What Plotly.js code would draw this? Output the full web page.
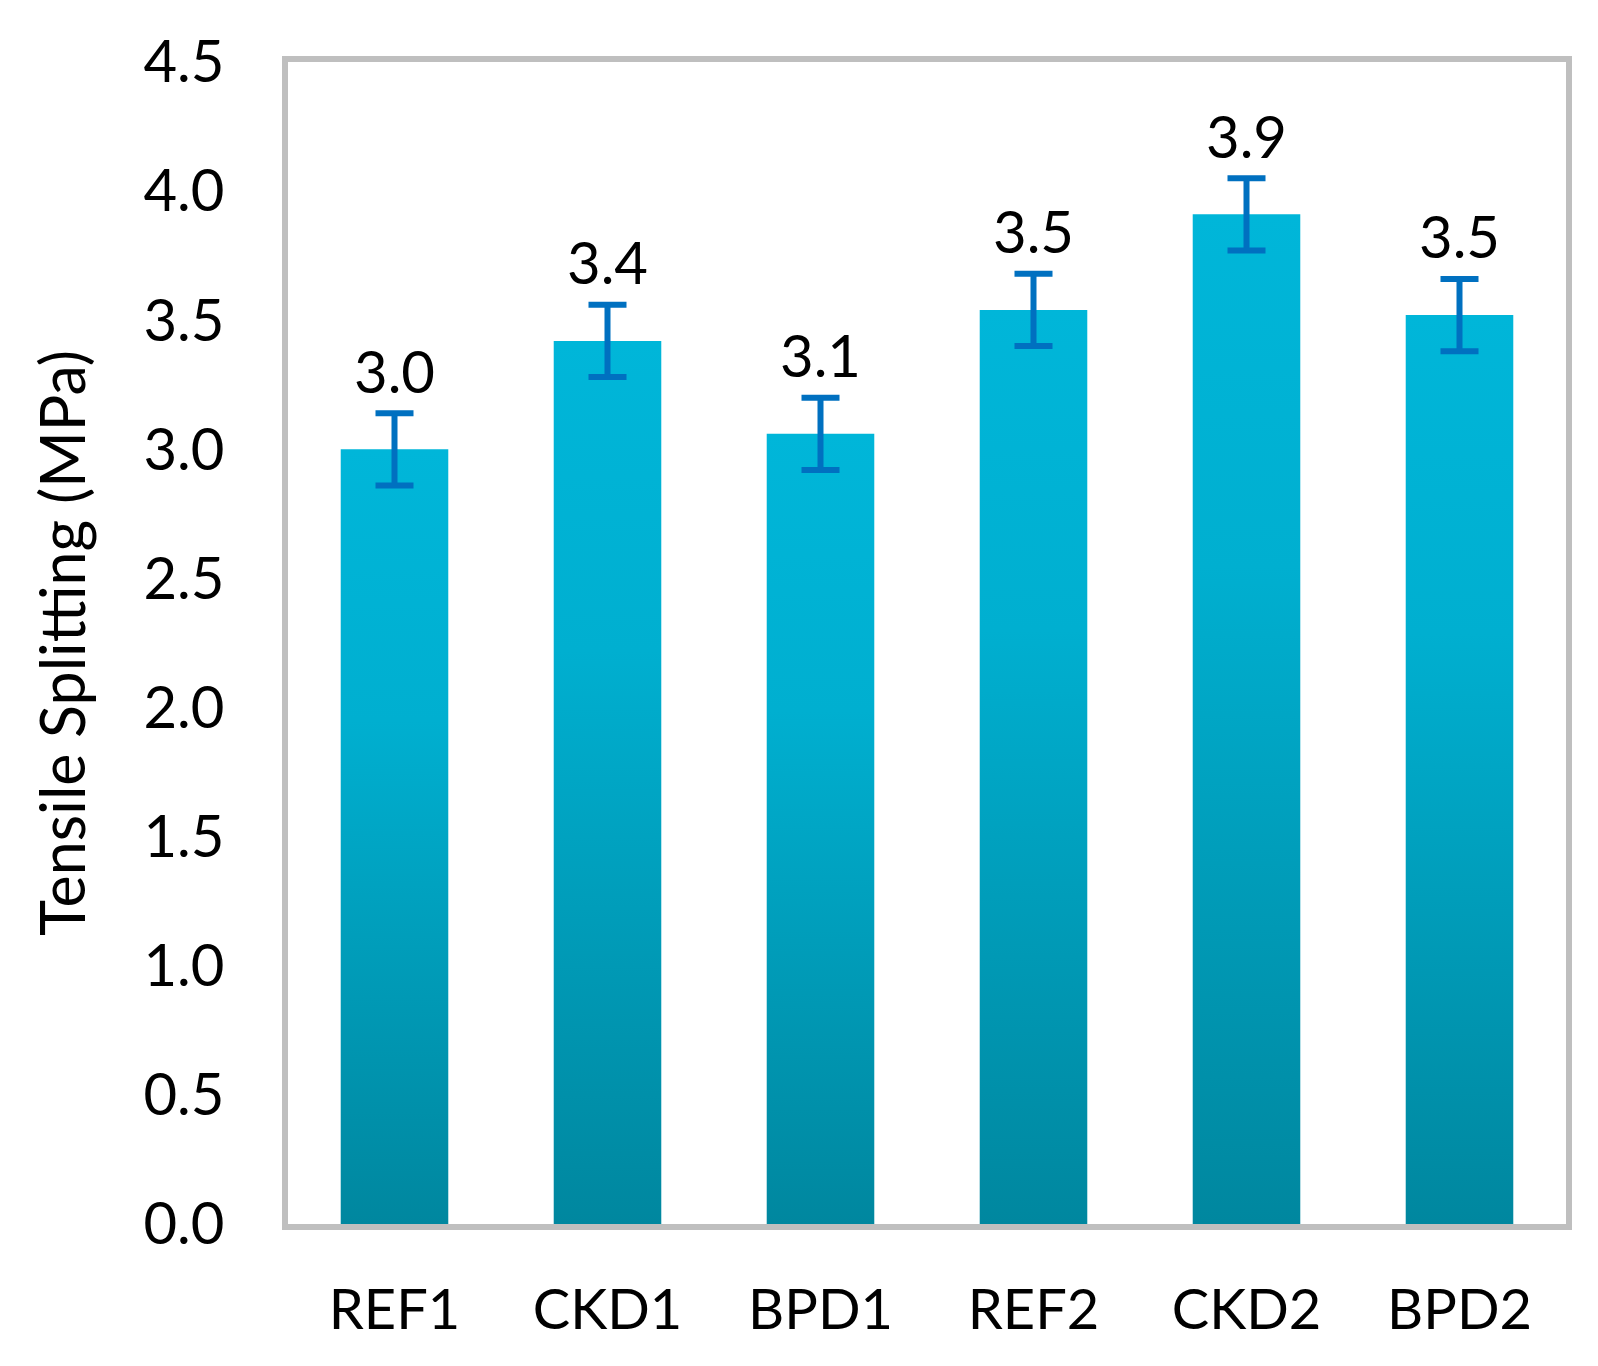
<!DOCTYPE html>
<html>
<head>
<meta charset="utf-8">
<script src="https://cdn.plot.ly/plotly-3.0.1.min.js"></script>
<style>
  html, body { margin: 0; padding: 0; background: #ffffff; }
  #chart { width: 1598px; height: 1366px; }
</style>
</head>
<body>
<div id="chart"></div>
<script>
const categories = ["REF1", "CKD1", "BPD1", "REF2", "CKD2", "BPD2"];
const tensileValues = [3.00, 3.42, 3.06, 3.54, 3.91, 3.52];
const errorValues = [0.14, 0.14, 0.14, 0.14, 0.14, 0.14];
const yTickValues = [0, 0.5, 1, 1.5, 2, 2.5, 3, 3.5, 4, 4.5];
const yTickLabels = ["0.0", "0.5", "1.0", "1.5", "2.0", "2.5", "3.0", "3.5", "4.0", "4.5"];
const yAxisTitle = "Tensile Splitting (MPa)";

const FONT = "Lato, 'Open Sans', 'DejaVu Sans', sans-serif";

const labelY = tensileValues.map((v, i) => v + errorValues[i]);
const labelText = tensileValues.map(v => v.toFixed(1));

const barTrace = {
  type: "bar",
  x: categories,
  y: tensileValues,
  marker: { color: "#00A6C4", line: { width: 0 } },
  error_y: {
    type: "data",
    array: errorValues,
    visible: true,
    color: "#0070C0",
    thickness: 6,
    width: 19
  },
  hoverinfo: "x+y",
  showlegend: false
};

const labelTrace = {
  type: "scatter",
  mode: "markers+text",
  x: categories,
  y: labelY,
  text: labelText,
  textposition: "top center",
  marker: { size: 8, color: "rgba(0,0,0,0)" },
  textfont: { family: FONT, size: 58, color: "#000000" },
  hoverinfo: "skip",
  showlegend: false,
  cliponaxis: false
};

const layout = {
  width: 1598,
  height: 1366,
  margin: { l: 288, r: 32, t: 62, b: 142, pad: 0 },
  paper_bgcolor: "#ffffff",
  plot_bgcolor: "#ffffff",
  bargap: 0.495,
  showlegend: false,
  font: { family: FONT, color: "#000000" },
  xaxis: {
    type: "category",
    showline: true,
    mirror: true,
    linecolor: "#BFBFBF",
    linewidth: 6,
    showgrid: false,
    zeroline: false,
    ticks: "",
    ticklabelstandoff: 32,
    tickfont: { family: FONT, size: 56, color: "#000000" },
    automargin: false
  },
  yaxis: {
    range: [0, 4.5],
    tickvals: yTickValues,
    ticktext: yTickLabels,
    showline: true,
    mirror: true,
    linecolor: "#BFBFBF",
    linewidth: 6,
    showgrid: false,
    zeroline: false,
    ticks: "",
    ticklabelstandoff: 46,
    tickfont: { family: FONT, size: 58, color: "#000000" },
    title: { text: yAxisTitle, font: { family: FONT, size: 61, color: "#000000" }, standoff: 40 },
    automargin: false
  }
};

Plotly.newPlot("chart", [barTrace, labelTrace], layout, { staticPlot: true, displayModeBar: false }).then(gd => {
  const svg = gd.querySelector(".main-svg");
  const ns = "http://www.w3.org/2000/svg";
  let defs = svg.querySelector("defs");
  if (!defs) { defs = document.createElementNS(ns, "defs"); svg.insertBefore(defs, svg.firstChild); }
  const grad = document.createElementNS(ns, "linearGradient");
  grad.setAttribute("id", "barGrad");
  grad.setAttribute("x1", "0"); grad.setAttribute("y1", "0");
  grad.setAttribute("x2", "0"); grad.setAttribute("y2", "1");
  [["0%", "#00B6D9"], ["35%", "#00AFD0"], ["100%", "#00879F"]].forEach(([o, c]) => {
    const s = document.createElementNS(ns, "stop");
    s.setAttribute("offset", o); s.setAttribute("stop-color", c);
    grad.appendChild(s);
  });
  defs.appendChild(grad);
  gd.querySelectorAll(".barlayer .point path").forEach(p => { p.style.fill = "url(#barGrad)"; });
});
</script>
</body>
</html>
